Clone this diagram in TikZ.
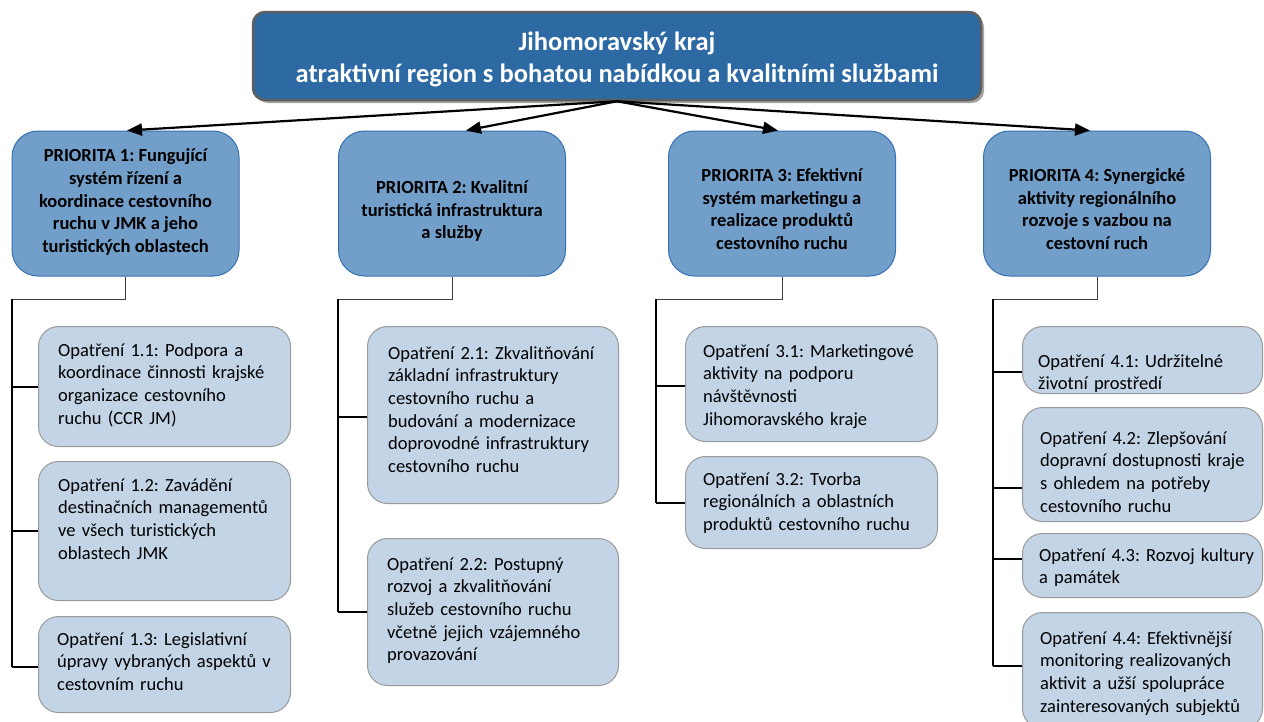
\documentclass[tikz,border=0pt]{standalone}
\usepackage{fontspec}
\setmainfont{Carlito}
\frenchspacing
\usetikzlibrary{arrows.meta,shadows,calc}
\definecolor{topfill}{HTML}{2D6AA3}
\definecolor{topdraw}{HTML}{5E5E5E}
\definecolor{pfill}{HTML}{729FCA}
\definecolor{pdraw}{HTML}{3470B3}
\definecolor{mfill}{HTML}{C2D4E6}
\definecolor{mdraw}{HTML}{9A9A9A}
\begin{document}
\begin{tikzpicture}[x=1pt,y=-1pt,
 topbox/.style={draw=topdraw, line width=2.5pt, fill=topfill, rounded corners=12pt, minimum width=728pt, minimum height=88pt, inner sep=0pt, drop shadow={shadow xshift=3pt, shadow yshift=-3pt, fill=black!35, opacity=1}},
 toptext/.style={text=white, font=\bfseries\fontsize{26.5}{32}\selectfont, align=center, inner sep=0pt},
 pbox/.style={draw=pdraw, line width=1pt, fill=pfill, rounded corners=26pt, minimum width=227pt, minimum height=145pt, inner sep=0pt},
 ptext/.style={font=\bfseries\fontsize{18.5}{22.6}\selectfont, align=center, inner sep=0pt},
 mbox/.style={draw=mdraw, line width=1pt, fill=mfill, rounded corners=20pt, inner sep=0pt, anchor=north west},
 mtext/.style={font=\fontsize{18.5}{22.7}\selectfont, align=left, text width=250pt, inner sep=0pt, anchor=base west},
 arr/.style={line width=2.2pt, -{Triangle[length=15pt,width=12pt]}},
 elbow/.style={draw=black!75, line width=1pt},
 trunk/.style={line width=2pt},
]
\useasboundingbox (0,0) rectangle (1264,721);
\fill[white] (0,0) rectangle (1264,721);

% top
\node[topbox] (top) at (617,56) {};
\node[toptext] (topt) at (617,59) {Jihomoravský kraj\\atraktivní region s bohatou nabídkou a kvalitními službami};

% priorities
\node[pbox] (p1) at (125.5,203.5) {};
\node[pbox] (p2) at (452,203.5) {};
\node[pbox] (p3) at (782,203.5) {};
\node[pbox] (p4) at (1097,203.5) {};
\node[ptext] (p1t) at (125.5,202) {PRIORITA 1: Fungující\\systém řízení a\\koordinace cestovního\\ruchu v JMK a jeho\\turistických oblastech};
\node[ptext] (p2t) at (452,211) {PRIORITA 2: Kvalitní\\turistická infrastruktura\\a služby};
\node[ptext] (p3t) at (782,209) {PRIORITA 3: Efektivní\\systém marketingu a\\realizace produktů\\cestovního ruchu};
\node[ptext] (p4t) at (1097,209) {PRIORITA 4: Synergické\\aktivity regionálního\\rozvoje s vazbou na\\cestovní ruch};

% arrows
\draw[arr] (top.south) -- ($(p1.north)+(1.5,0)$);
\draw[arr] (top.south) -- ($(p2.north)+(14,0)$);
\draw[arr] (top.south) -- ($(p3.north)+(-4,0)$);
\draw[arr] (top.south) -- ($(p4.north)+(-7,0)$);

% measures
\node[mbox, minimum width=252pt, minimum height=120pt] (m11) at (38,326) {};
\node[mbox, minimum width=252pt, minimum height=139pt] (m12) at (38,461) {};
\node[mbox, minimum width=252pt, minimum height=96pt] (m13) at (38,616) {};
\node[mbox, minimum width=251pt, minimum height=177pt] (m21) at (367,326) {};
\node[mbox, minimum width=251pt, minimum height=147pt] (m22) at (367,538) {};
\node[mbox, minimum width=252pt, minimum height=115pt] (m31) at (685,326) {};
\node[mbox, minimum width=252pt, minimum height=92pt] (m32) at (685,456) {};
\node[mbox, minimum width=240pt, minimum height=67pt] (m41) at (1022,326) {};
\node[mbox, minimum width=240pt, minimum height=114pt] (m42) at (1022,407) {};
\node[mbox, minimum width=240pt, minimum height=64pt] (m43) at (1022,533) {};
\node[mbox, minimum width=240pt, minimum height=116pt] (m44) at (1022,612) {};

\node[mtext] (m11t) at (58,356) {Opatření 1.1: Podpora a\\koordinace činnosti krajské\\organizace cestovního\\ruchu (CCR JM)};
\node[mtext] (m12t) at (58,491) {Opatření 1.2: Zavádění\\destinačních managementů\\ve všech turistických\\oblastech JMK};
\node[mtext] (m13t) at (57,645) {Opatření 1.3: Legislativní\\úpravy vybraných aspektů v\\cestovním ruchu};
\node[mtext] (m21t) at (388,359) {Opatření 2.1: Zkvalitňování\\základní infrastruktury\\cestovního ruchu a\\budování a modernizace\\doprovodné infrastruktury\\cestovního ruchu};
\node[mtext] (m22t) at (387,570) {Opatření 2.2: Postupný\\rozvoj a zkvalitňování\\služeb cestovního ruchu\\včetně jejich vzájemného\\provazování};
\node[mtext] (m31t) at (703,357) {Opatření 3.1: Marketingové\\aktivity na podporu\\návštěvnosti\\Jihomoravského kraje};
\node[mtext] (m32t) at (703,485) {Opatření 3.2: Tvorba\\regionálních a oblastních\\produktů cestovního ruchu};
\node[mtext] (m41t) at (1038,367) {Opatření 4.1: Udržitelné\\životní prostředí};
\node[mtext] (m42t) at (1040,444) {Opatření 4.2: Zlepšování\\dopravní dostupnosti kraje\\s ohledem na potřeby\\cestovního ruchu};
\node[mtext] (m43t) at (1039,561) {Opatření 4.3: Rozvoj kultury\\a památek};
\node[mtext] (m44t) at (1040,644) {Opatření 4.4: Efektivnější\\monitoring realizovaných\\aktivit a užší spolupráce\\zainteresovaných subjektů};

% connectors
\coordinate (t1) at (12,299);
\coordinate (t2) at (338,299);
\coordinate (t3) at (656,299);
\coordinate (t4) at (993,299);
\draw[elbow] (p1.south) |- (t1);
\draw[elbow] (p2.south) |- (t2);
\draw[elbow] (p3.south) |- (t3);
\draw[elbow] (p4.south) |- (t4);

\coordinate (b11) at (m11.west);
\coordinate (b12) at (m12.west);
\coordinate (b13) at ($(m13.west)+(0,2)$);
\coordinate (b21) at ($(m21.west)+(0,2)$);
\coordinate (b22) at (m22.west);
\coordinate (b31) at ($(m31.west)+(0,2)$);
\coordinate (b32) at (m32.west);
\coordinate (b41) at ($(m41.west)+(0,11.5)$);
\coordinate (b42) at ($(m42.west)+(0,23)$);
\coordinate (b43) at ($(m43.west)+(0,-7)$);
\coordinate (b44) at ($(m44.west)+(0,-5)$);

\draw[trunk] (t1) -- (t1 |- b13);
\draw[trunk] (t2) -- (t2 |- b22);
\draw[trunk] (t3) -- (t3 |- b32);
\draw[trunk] (t4) -- (t4 |- b44);
\foreach \t/\b in {t1/b11,t1/b12,t1/b13,t2/b21,t2/b22,t3/b31,t3/b32,t4/b41,t4/b42,t4/b43,t4/b44}
  \draw[trunk] (\t |- \b) -- (\b);
\end{tikzpicture}
\end{document}
